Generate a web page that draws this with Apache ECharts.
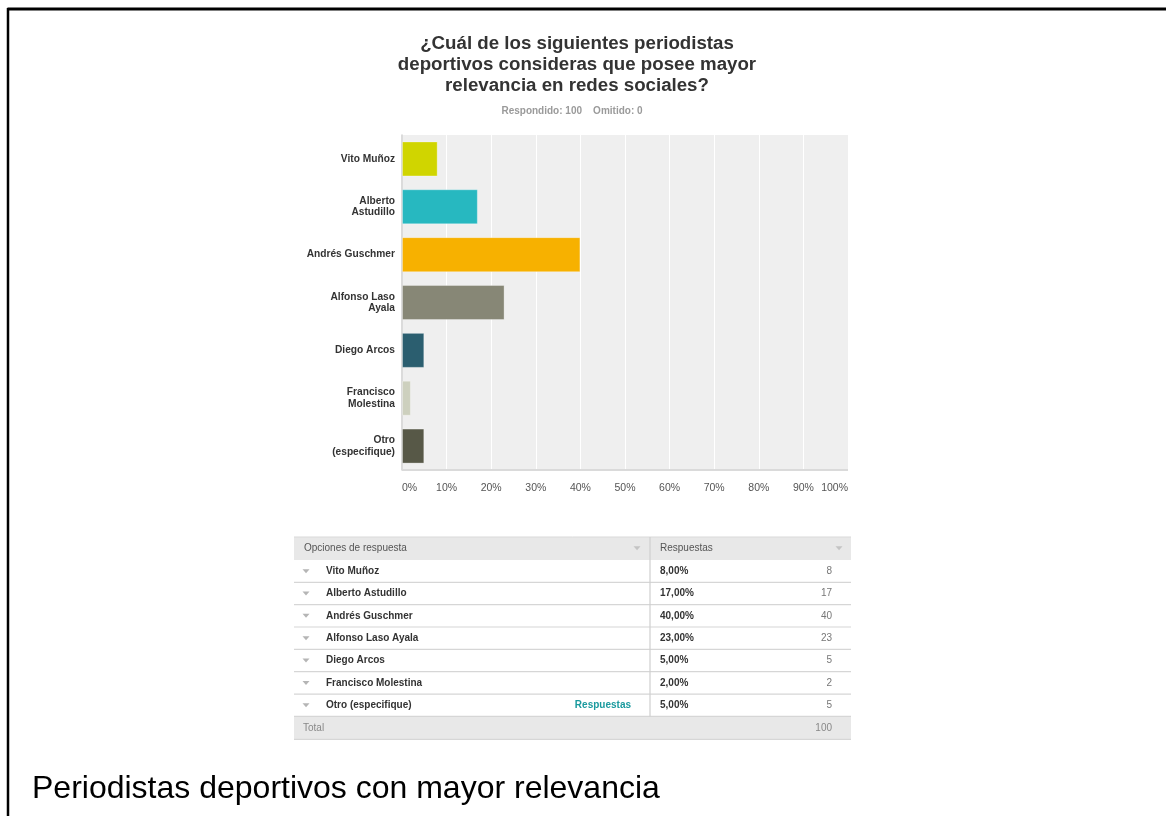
<!DOCTYPE html>
<html>
<head>
<meta charset="utf-8">
<script src="https://cdn.jsdelivr.net/npm/echarts@6/dist/echarts.min.js"></script>
<style>
  html, body { margin: 0; padding: 0; background: #fff; }
  #chart { width: 1166px; height: 816px; }
</style>
</head>
<body>
<div id="chart"></div>
<script>
// Survey question: which sports journalist has the most relevance on social networks
const categories = ['Vito Muñoz', 'Alberto Astudillo', 'Andrés Guschmer', 'Alfonso Laso Ayala', 'Diego Arcos', 'Francisco Molestina', 'Otro (especifique)'];
const axisLabels = ['Vito Muñoz', 'Alberto\nAstudillo', 'Andrés Guschmer', 'Alfonso Laso\nAyala', 'Diego Arcos', 'Francisco\nMolestina', 'Otro\n(especifique)'];
const percentages = [8, 17, 40, 23, 5, 2, 5];
const counts = [8, 17, 40, 23, 5, 2, 5];
const barColors = ['#d0d500', '#27b8c0', '#f7b100', '#878776', '#2b5e6f', '#cdd0be', '#575847'];
const totalAnswered = 100;
const totalSkipped = 0;
const titleText = '¿Cuál de los siguientes periodistas\ndeportivos consideras que posee mayor\nrelevancia en redes sociales?';
const captionText = 'Periodistas deportivos con mayor relevancia';
const tableHeaders = ['Opciones de respuesta', 'Respuestas'];

const FONT = '"Liberation Sans", Arial, Helvetica, sans-serif';

// Summary table under the chart
function buildTable() {
  const left = 294, right = 851, divider = 650;
  const headTop = 537, rowH = 22.35;
  const els = [];
  const tri = (x, y, color) => ({
    type: 'polygon',
    shape: { points: [[x - 3.5, y - 2], [x + 3.5, y - 2], [x, y + 2]] },
    style: { fill: color }
  });
  // header
  els.push({ type: 'rect', shape: { x: left, y: headTop, width: right - left, height: rowH + 0.6 }, style: { fill: '#e8e8e8' } });
  els.push({ type: 'line', shape: { x1: left, y1: headTop, x2: right, y2: headTop }, style: { stroke: '#d9d9d9', lineWidth: 1 } });
  els.push({ type: 'text', x: 304, y: headTop + rowH / 2, style: { text: tableHeaders[0], font: '10px ' + FONT, fill: '#555', verticalAlign: 'middle' } });
  els.push({ type: 'text', x: 660, y: headTop + rowH / 2, style: { text: tableHeaders[1], font: '10px ' + FONT, fill: '#555', verticalAlign: 'middle' } });
  els.push(tri(637, headTop + rowH / 2, '#c4c4c4'));
  els.push(tri(839, headTop + rowH / 2, '#c4c4c4'));

  const bodyTop = headTop + rowH + 0.6;
  categories.forEach((name, i) => {
    const y0 = bodyTop + i * rowH;
    const cy = y0 + rowH / 2;
    els.push(tri(306, cy, '#b5b5b5'));
    els.push({ type: 'text', x: 326, y: cy, style: { text: name, font: 'bold 10px ' + FONT, fill: '#333', verticalAlign: 'middle' } });
    els.push({ type: 'text', x: 660, y: cy, style: { text: percentages[i].toFixed(2).replace('.', ',') + '%', font: 'bold 10px ' + FONT, fill: '#333', verticalAlign: 'middle' } });
    els.push({ type: 'text', x: 832, y: cy, style: { text: String(counts[i]), font: '10px ' + FONT, fill: '#777', align: 'right', verticalAlign: 'middle' } });
    if (i === categories.length - 1) {
      els.push({ type: 'text', x: 631, y: cy, style: { text: 'Respuestas', font: 'bold 10px ' + FONT, fill: '#1a9a9e', align: 'right', verticalAlign: 'middle' } });
    }
    els.push({ type: 'line', shape: { x1: left, y1: y0 + rowH, x2: right, y2: y0 + rowH }, style: { stroke: '#d6d6d6', lineWidth: 1.2 } });
  });
  const totTop = bodyTop + categories.length * rowH;
  els.push({ type: 'rect', shape: { x: left, y: totTop + 0.6, width: right - left, height: rowH }, style: { fill: '#e8e8e8' } });
  els.push({ type: 'line', shape: { x1: left, y1: totTop + rowH + 0.6, x2: right, y2: totTop + rowH + 0.6 }, style: { stroke: '#d6d6d6', lineWidth: 1.2 } });
  els.push({ type: 'text', x: 303, y: totTop + rowH / 2 + 0.6, style: { text: 'Total', font: '10px ' + FONT, fill: '#888', verticalAlign: 'middle' } });
  els.push({ type: 'text', x: 832, y: totTop + rowH / 2 + 0.6, style: { text: String(counts.reduce((a, b) => a + b, 0)), font: '10px ' + FONT, fill: '#888', align: 'right', verticalAlign: 'middle' } });
  els.push({ type: 'line', shape: { x1: divider, y1: headTop, x2: divider, y2: totTop }, style: { stroke: '#cfcfcf', lineWidth: 1.2 } });
  return els;
}

// Page frame lines, answer summary line and figure caption
const decorations = [
  { type: 'line', shape: { x1: 7.5, y1: 9, x2: 1166, y2: 9 }, style: { stroke: '#000', lineWidth: 3 } },
  { type: 'line', shape: { x1: 8, y1: 8, x2: 8, y2: 816 }, style: { stroke: '#000', lineWidth: 2.5 } },
  { type: 'text', x: 572, y: 111, style: { text: 'Respondido: ' + totalAnswered + '    Omitido: ' + totalSkipped, font: 'bold 10px ' + FONT, fill: '#9a9a9a', align: 'center', verticalAlign: 'middle' } },
  { type: 'text', x: 32, y: 789, style: { text: captionText, font: '32px ' + FONT, fill: '#000', verticalAlign: 'middle' } }
];

const chart = echarts.init(document.getElementById('chart'), null, { renderer: 'canvas' });
chart.setOption({
  animation: false,
  backgroundColor: '#fff',
  title: {
    text: titleText,
    left: 572,
    top: 28,
    textAlign: 'center',
    textStyle: { fontFamily: FONT, fontSize: 18.7, fontWeight: 'bold', color: '#333', lineHeight: 21 }
  },
  grid: {
    left: 402, right: 318, top: 135, bottom: 346,
    show: true, backgroundColor: '#efefef', borderWidth: 0
  },
  xAxis: {
    type: 'value', min: 0, max: 100, interval: 10,
    axisLine: { show: false },
    axisTick: { show: false },
    splitLine: { show: true, lineStyle: { color: '#ffffff', width: 1 } },
    axisLabel: {
      formatter: '{value}%', color: '#555', fontFamily: FONT, fontSize: 10.5, margin: 13,
      alignMinLabel: 'left', alignMaxLabel: 'right'
    }
  },
  yAxis: {
    type: 'category', data: axisLabels, inverse: true,
    axisLine: { show: true, lineStyle: { color: '#cfcfcf', width: 1.5 } },
    axisTick: { show: false },
    axisLabel: { color: '#333', fontFamily: FONT, fontSize: 10.2, fontWeight: 'bold', margin: 7, lineHeight: 11.5, align: 'right' }
  },
  series: [
    {
      type: 'bar',
      data: percentages.map((v, i) => ({ value: v, itemStyle: { color: barColors[i] } })),
      barWidth: 35,
      itemStyle: { borderColor: 'rgba(255,255,255,0.3)', borderWidth: 1 },
      emphasis: { disabled: true }
    },
    {
      // bottom axis rule
      type: 'line', data: [], markLine: {
        silent: true, symbol: 'none', label: { show: false },
        lineStyle: { color: '#dadada', width: 2, type: 'solid' },
        data: [[{ coord: [0, axisLabels[6]], y: 470 }, { coord: [100, axisLabels[6]], y: 470 }]]
      }
    }
  ],
  graphic: decorations.concat(buildTable())
});
</script>
</body>
</html>
